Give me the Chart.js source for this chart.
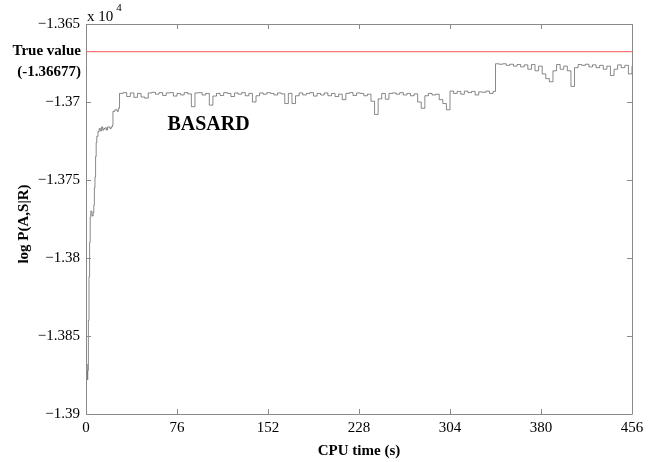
<!DOCTYPE html>
<html>
<head>
<meta charset="utf-8">
<script src="https://cdn.jsdelivr.net/npm/chart.js@4/dist/chart.umd.min.js"></script>
<style>
  html, body { margin: 0; padding: 0; background: #fff; }
  #wrap { width: 655px; height: 462px; }
</style>
</head>
<body>
<div id="wrap"><canvas id="c" width="655" height="462"></canvas></div>
<script>
// ---- data (values in units of 10^4) ----
const cpuTime = [
  0, 0.5, 1, 1.5, 2, 2.5, 3, 3.5, 4, 5, 6, 6.5, 7, 7.5, 8, 8.5, 9, 10, 11, 12,
  13, 14, 15, 16, 17, 18, 19, 20, 21, 22, 22.5, 24, 26, 27, 28,
  31, 34, 37, 40, 43, 46, 49, 52, 55, 58, 61, 64, 67, 70, 73, 76, 79, 82, 85, 88,
  91, 94, 97, 100, 103, 106, 109, 112, 115, 118, 121, 124, 127, 130, 133, 136, 139, 142, 145, 148,
  151, 154, 157, 160, 163, 166, 169, 172, 175, 178, 181, 184, 187, 190, 193, 196, 199, 202, 205, 208,
  211, 214, 217, 220, 223, 226, 229, 232, 235, 238, 241, 244, 247, 250, 253, 256, 259, 262, 265, 268,
  271, 274, 277, 280, 283, 286, 289, 292, 295, 298, 301, 304, 307, 310, 313, 316, 319, 322, 325, 328,
  331, 334, 337, 340,
  342, 345, 348, 351, 354, 357, 360, 363, 366, 369, 372, 375, 378, 381, 384, 387, 390, 393, 396, 399,
  402, 405, 408, 411, 414, 417, 420, 423, 426, 429, 432, 435, 438, 441, 444, 447, 450, 453, 456
];
const logP = [
  -1.3875, -1.3868, -1.3878, -1.3872, -1.3840, -1.3812, -1.3790, -1.3774, -1.3770, -1.3773,
  -1.3771, -1.3766, -1.3755, -1.3748, -1.3735, -1.3726, -1.3722, -1.3719, -1.3717, -1.37185,
  -1.3716, -1.3718, -1.3717, -1.37165, -1.3718, -1.3716, -1.3716, -1.3717, -1.3716, -1.3715,
  -1.3706, -1.3705, -1.3706, -1.3704, -1.36945,
  -1.36940, -1.36965, -1.36942, -1.36970, -1.36945, -1.36968, -1.36975, -1.36942, -1.36938, -1.36950,
  -1.36940, -1.36958, -1.36942, -1.36940, -1.36962, -1.36945, -1.36955, -1.36940, -1.36948, -1.37030,
  -1.36942, -1.36940, -1.36955, -1.36945, -1.37020, -1.36962, -1.36945, -1.36958, -1.36940, -1.36945,
  -1.36965, -1.36942, -1.36950, -1.36940, -1.36960, -1.36945, -1.37000, -1.36960, -1.36942, -1.36950,
  -1.36940, -1.36945, -1.36955, -1.36942, -1.36948, -1.37010, -1.36945, -1.37010, -1.36960, -1.36942,
  -1.36955, -1.36945, -1.36940, -1.36962, -1.36945, -1.36955, -1.36942, -1.36960, -1.36945, -1.36965,
  -1.36950, -1.36985, -1.36945, -1.36940, -1.36958, -1.36942, -1.36945, -1.36960, -1.36950, -1.36995,
  -1.37080, -1.36980, -1.36945, -1.36982, -1.36945, -1.36942, -1.36950, -1.36940, -1.36955, -1.36945,
  -1.36960, -1.36948, -1.37000, -1.37040, -1.36960, -1.36945, -1.36955, -1.36950, -1.36985, -1.37010,
  -1.37050, -1.36930, -1.36945, -1.36932, -1.36950, -1.36930, -1.36940, -1.36932, -1.36955, -1.36935,
  -1.36938, -1.36930, -1.36945, -1.36932,
  -1.36755, -1.36758, -1.36755, -1.36765, -1.36758, -1.36770, -1.36760, -1.36775, -1.36762, -1.36790,
  -1.36760, -1.36800, -1.36770, -1.36820, -1.36850, -1.36870, -1.36800, -1.36760, -1.36790, -1.36770,
  -1.36800, -1.36900, -1.36780, -1.36760, -1.36765, -1.36758, -1.36775, -1.36762, -1.36780, -1.36765,
  -1.36790, -1.36770, -1.36830, -1.36790, -1.36762, -1.36780, -1.36765, -1.36820, -1.36770
];
const trueValue = -1.36677;
const xTicks = [0, 76, 152, 228, 304, 380, 456];
const yTicks = [-1.39, -1.385, -1.38, -1.375, -1.37, -1.365];
const yTickLabels = ['\u22121.39', '\u22121.385', '\u22121.38', '\u22121.375', '\u22121.37', '\u22121.365'];
const seriesName = 'BASARD';
const trueLabel = ['True value', '(-1.36677)'];
const xTitle = 'CPU time (s)';
const yTitle = 'log P(A,S|R)';
const expLabel = ['x 10', '4'];

const FONT = '"Liberation Serif", "Times New Roman", serif';
const AXIS_COLOR = '#8a8a8a';

const boxPlugin = {
  id: 'matlabBox',
  afterDraw(chart) {
    const { ctx, chartArea: a, scales } = chart;
    const xs = scales.x, ys = scales.y;
    ctx.save();
    ctx.strokeStyle = AXIS_COLOR;
    ctx.lineWidth = 1;
    ctx.beginPath();
    ctx.rect(Math.round(a.left) + 0.5, Math.round(a.top) + 0.5,
             Math.round(a.right - a.left), Math.round(a.bottom - a.top));
    ctx.stroke();
    const tl = 5;
    ctx.beginPath();
    xTicks.forEach(v => {
      const px = Math.round(xs.getPixelForValue(v)) + 0.5;
      ctx.moveTo(px, a.bottom); ctx.lineTo(px, a.bottom - tl);
      ctx.moveTo(px, a.top); ctx.lineTo(px, a.top + tl);
    });
    yTicks.forEach(v => {
      const py = Math.round(ys.getPixelForValue(v)) + 0.5;
      ctx.moveTo(a.left, py); ctx.lineTo(a.left + tl, py);
      ctx.moveTo(a.right, py); ctx.lineTo(a.right - tl, py);
    });
    ctx.stroke();

    ctx.fillStyle = '#000';
    // exponent label
    ctx.font = '15px ' + FONT;
    ctx.textAlign = 'left';
    ctx.textBaseline = 'middle';
    ctx.fillText(expLabel[0], a.left + 1, a.top - 7);
    const w = ctx.measureText(expLabel[0]).width;
    ctx.font = '11px ' + FONT;
    ctx.fillText(expLabel[1], a.left + 4 + w, a.top - 16);

    // true value label
    const ty = ys.getPixelForValue(trueValue);
    ctx.font = 'bold 15px ' + FONT;
    ctx.textAlign = 'right';
    ctx.fillText(trueLabel[0], a.left - 5, ty);
    ctx.fillText(trueLabel[1], a.left - 5, ty + 21);

    // series label
    ctx.font = 'bold 20px ' + FONT;
    ctx.textAlign = 'left';
    ctx.fillText(seriesName, xs.getPixelForValue(68), ys.getPixelForValue(-1.37145));

    // axis titles
    ctx.font = 'bold 15px ' + FONT;
    ctx.textAlign = 'center';
    ctx.fillText(xTitle, (a.left + a.right) / 2, 451);
    ctx.translate(24, 224);
    ctx.rotate(-Math.PI / 2);
    ctx.fillText(yTitle, 0, 0);
    ctx.restore();
  }
};

const points = cpuTime.map((t, i) => ({ x: t, y: logP[i] }));

new Chart(document.getElementById('c'), {
  type: 'line',
  data: {
    datasets: [
      {
        label: 'True value',
        data: [{ x: xTicks[0], y: trueValue }, { x: xTicks[xTicks.length - 1], y: trueValue }],
        borderColor: '#ff7a7a',
        borderWidth: 1.3,
        pointRadius: 0,
        fill: false
      },
      {
        label: seriesName,
        data: points,
        borderColor: '#3a3a3a',
        borderWidth: 0.6,
        pointRadius: 0,
        stepped: true,
        fill: false
      }
    ]
  },
  options: {
    responsive: false,
    animation: false,
    events: [],
    layout: { padding: { top: 24, right: 23, left: 0, bottom: 0 } },
    plugins: { legend: { display: false }, tooltip: { enabled: false } },
    scales: {
      x: {
        type: 'linear',
        min: 0, max: 456,
        border: { display: false },
        grid: { display: false, drawTicks: false },
        afterBuildTicks: s => { s.ticks = xTicks.map(v => ({ value: v })); },
        afterFit: s => { s.height = 48; },
        ticks: {
          padding: 5,
          color: '#000',
          maxRotation: 0,
          autoSkip: false,
          font: { family: FONT, size: 15 },
          callback: v => String(v)
        }
      },
      y: {
        type: 'linear',
        min: -1.39, max: -1.365,
        border: { display: false },
        grid: { display: false, drawTicks: false },
        afterBuildTicks: s => { s.ticks = yTicks.map(v => ({ value: v })); },
        afterFit: s => { s.width = 86; },
        ticks: {
          padding: 6,
          color: '#000',
          autoSkip: false,
          font: { family: FONT, size: 15 },
          callback: v => {
            const i = yTicks.findIndex(t => Math.abs(t - v) < 1e-9);
            return i >= 0 ? yTickLabels[i] : '';
          }
        }
      }
    }
  },
  plugins: [boxPlugin]
});
</script>
</body>
</html>
